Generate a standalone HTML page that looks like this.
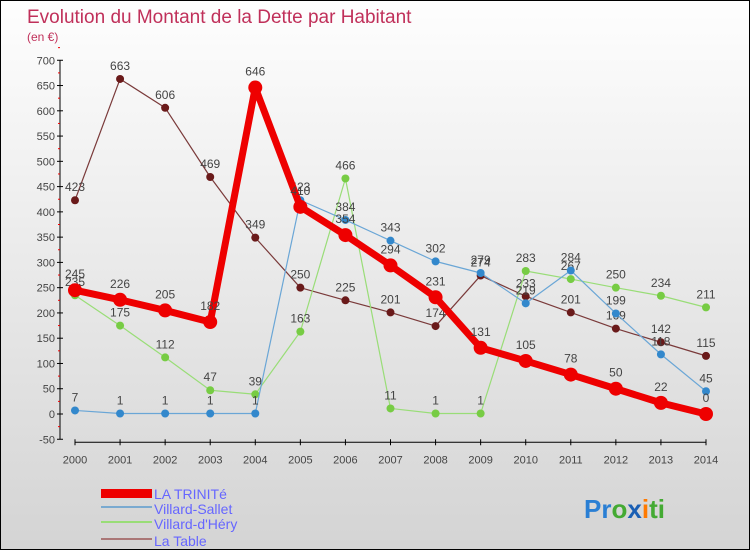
<!DOCTYPE html>
<html><head><meta charset="utf-8"><style>
html,body{margin:0;padding:0}
body{width:750px;height:550px;overflow:hidden;font-family:"Liberation Sans",sans-serif}
#c{position:absolute;left:0;top:0;width:748px;height:548px;border:1px solid #000;background:linear-gradient(#fefefe,#d4d4d4)}
</style></head><body>
<div id="c">
<svg id="s" width="748" height="548" xmlns="http://www.w3.org/2000/svg">
<text x="26" y="22" font-size="19" fill="#c0305a">Evolution du Montant de la Dette par Habitant</text>
<text x="26" y="40" font-size="12" fill="#c0305a">(en €)</text>
<g id="axes"></g><g id="series"></g>
<g>
<rect x="100" y="488" width="51" height="9" fill="#ee0000"/>
<text x="153" y="498" font-size="14" fill="#6666ff">LA TRINITé</text>
<rect x="100" y="505" width="51" height="2" fill="#7aaad0"/>
<text x="153" y="513" font-size="14" fill="#6666ff">Villard-Sallet</text>
<rect x="100" y="520" width="51" height="2" fill="#99dd77"/>
<text x="153" y="528" font-size="14" fill="#6666ff">Villard-d'Héry</text>
<rect x="100" y="537" width="51" height="2" fill="#aa7777"/>
<text x="153" y="545" font-size="14" fill="#6666ff">La Table</text>
</g>
<text x="583" y="517" font-size="26" font-weight="bold"><tspan fill="#2a7fd4">Pr</tspan><tspan fill="#44aa33">o</tspan><tspan fill="#1a5fb4">x</tspan><tspan fill="#ff7a00">i</tspan><tspan fill="#44aa33">ti</tspan></text>
</svg></div>
<script>
const years=[2000,2001,2002,2003,2004,2005,2006,2007,2008,2009,2010,2011,2012,2013,2014];
const yTicks=[-50,0,50,100,150,200,250,300,350,400,450,500,550,600,650,700];
const laTrinite=[245,226,205,182,646,410,354,294,231,131,105,78,50,22,0];
const villardSallet=[7,1,1,1,1,423,384,343,302,279,219,284,199,118,45];
const villardDhery=[235,175,112,47,39,163,466,11,1,1,283,267,250,234,211];
const laTable=[423,663,606,469,349,250,225,201,174,274,233,201,169,142,115];
const NS="http://www.w3.org/2000/svg";
const X=i=>74+i*(631/14);
const Y=v=>413-v*(379/750);
function el(t,a,p){const e=document.createElementNS(NS,t);for(const k in a)e.setAttribute(k,a[k]);p.appendChild(e);return e;}
const ax=document.getElementById('axes');
let yl=el('line',{x1:59,y1:Y(700),x2:59,y2:Y(-50),stroke:'#000','stroke-width':1},ax);


yTicks.forEach(v=>{
 el('line',{x1:56,y1:Y(v),x2:62,y2:Y(v),stroke:'#000'},ax);
 el('line',{x1:57,y1:Y(v+25),x2:59,y2:Y(v+25),stroke:'#e00'},ax);
 const t=el('text',{x:54,y:Y(v)+4,'font-size':11,fill:'#444','text-anchor':'end'},ax);
 t.textContent=v;
 
 
});
let xl=el('line',{x1:X(0),y1:Y(-50)+3,x2:X(14),y2:Y(-50)+3,stroke:'#000'},ax);


years.forEach((y,i)=>{
 el('line',{x1:X(i),y1:Y(-50),x2:X(i),y2:Y(-50)+6,stroke:'#000'},ax);
 const t=el('text',{x:X(i),y:Y(-50)+24,'font-size':11,fill:'#444','text-anchor':'middle'},ax);
 t.textContent=y;
 
 
});
const sg=document.getElementById('series');
function draw(data,color,dot,w,r,name){
 const g=el('g',{},sg);
 
 
 const pl=el('polyline',{points:data.map((v,i)=>X(i)+','+Y(v)).join(' '),fill:'none',stroke:color,'stroke-width':w,'stroke-linejoin':'round'},g);
 
 
 data.forEach((v,i)=>{
  const c=el('circle',{cx:X(i),cy:Y(v),r:r,fill:dot},g);
  
  
  const t=el('text',{x:X(i),y:Y(v)-(r+5),'font-size':12,fill:'#444','text-anchor':'middle'},g);
  t.textContent=v;
  
  
 });
}
draw(laTable,'#7a3a3a','#6a1a1a',1.2,4,'la-table');
draw(villardDhery,'#99dd77','#77cc44',1.2,4,'villard-dhery');
draw(villardSallet,'#6aa6d6','#3388cc',1.2,4,'villard-sallet');
draw(laTrinite,'#ee0000','#ee0000',7,7,'la-trinite');
</script>
</body></html>
